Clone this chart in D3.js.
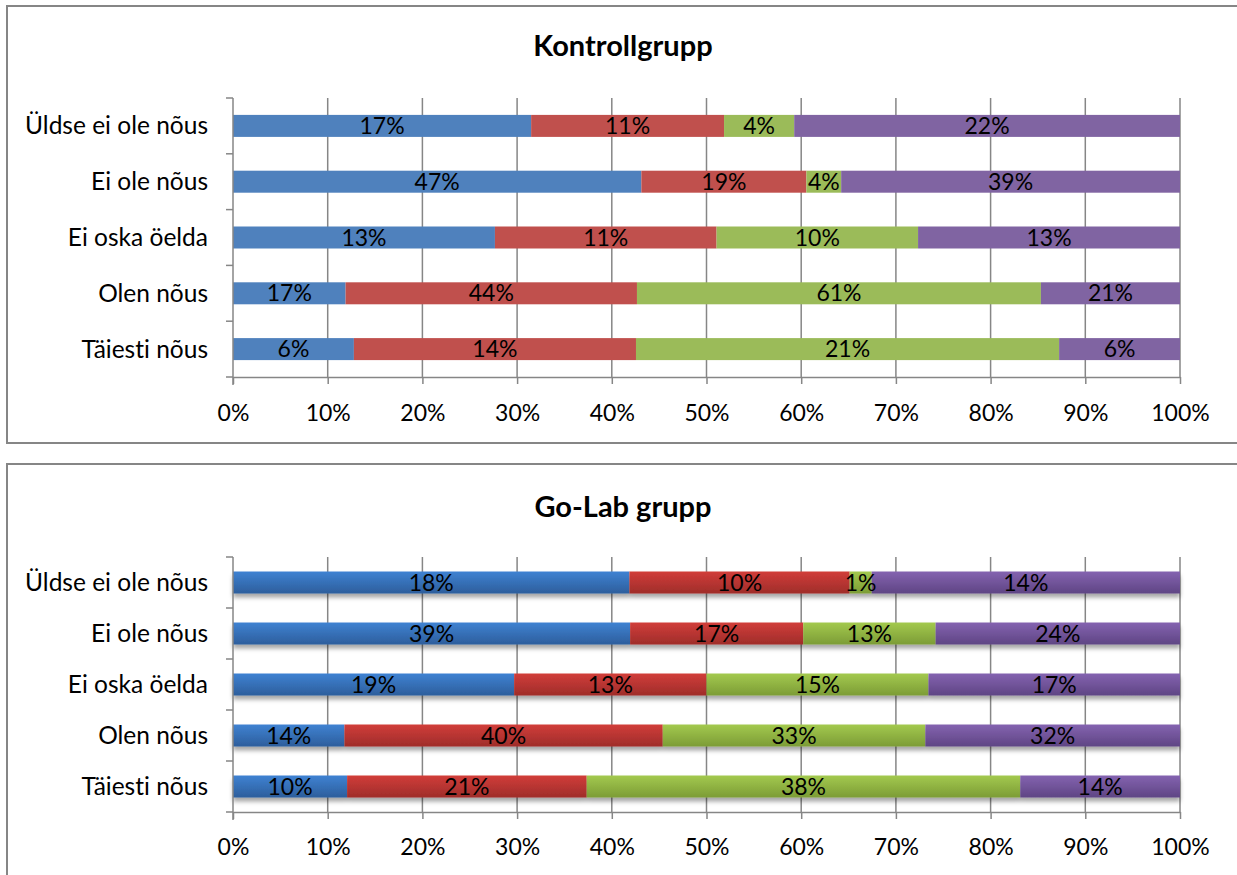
<!DOCTYPE html>
<html><head><meta charset="utf-8">
<script src="https://cdn.jsdelivr.net/npm/d3@7"></script>
<style>
html,body{margin:0;padding:0;background:#fff;}
svg{display:block;font-family:Lato,"Open Sans",sans-serif;font-variant-ligatures:none;}
</style></head>
<body>
<svg id="chart" width="1237" height="875"></svg>
<script>
const categories = ["Üldse ei ole nõus","Ei ole nõus","Ei oska öelda","Olen nõus","Täiesti nõus"];
const xTicks = [0,0.1,0.2,0.3,0.4,0.5,0.6,0.7,0.8,0.9,1];

const kontrollTitle = "Kontrollgrupp";
const kontroll1 = [17,47,13,17,6];
const kontroll2 = [11,19,11,44,14];
const kontroll3 = [4,4,10,61,21];
const kontroll4 = [22,39,13,21,6];

const golabTitle = "Go-Lab grupp";
const golab1 = [18,39,19,14,10];
const golab2 = [10,17,13,40,21];
const golab3 = [1,13,15,33,38];
const golab4 = [14,24,17,32,14];

const flatColors = ["#4F81BD","#C0504D","#9BBB59","#8064A2"];
const gradColors = [["#3F82D2","#2D5E9C"],["#D13D3A","#9F2D2A"],["#A3C94E","#7C9C36"],["#8463B0","#5F4584"]];

const svg = d3.select("#chart");
const defs = svg.append("defs");
gradColors.forEach((c,i)=>{
  const g = defs.append("linearGradient").attr("id","grad"+i).attr("x1",0).attr("y1",0).attr("x2",0).attr("y2",1);
  g.append("stop").attr("offset","0%").attr("stop-color",c[0]);
  g.append("stop").attr("offset","100%").attr("stop-color",c[1]);
});
const f = defs.append("filter").attr("id","shadow").attr("x","-5%").attr("y","-20%").attr("width","110%").attr("height","180%");
f.append("feDropShadow").attr("dx",0).attr("dy",4).attr("stdDeviation",2.2).attr("flood-color","#000").attr("flood-opacity",0.35);

const gridColor = "#868686";

function drawPanel(cfg){
  const {title, series, frameTop, frameBottom, plotTop, plotBottom, titleY, tickLabelY, gradient} = cfg;
  const x0 = 233, x1 = 1180;
  svg.append("rect").attr("x",7).attr("y",frameTop).attr("width",1260).attr("height",frameBottom-frameTop)
    .attr("fill","#fff").attr("stroke",gridColor).attr("stroke-width",2);
  svg.append("text").attr("x",623).attr("y",titleY).attr("text-anchor","middle")
    .attr("font-size",29).attr("font-weight","bold").attr("fill","#000").text(title);

  const x = d3.scaleLinear().domain([0,1]).range([x0,x1]);
  const n = categories.length;
  const step = (plotBottom-plotTop)/n;
  const p = 1 - 22/step;
  const y = d3.scaleBand().domain(categories).range([plotTop,plotBottom]).paddingInner(p).paddingOuter(p/2);

  const g = svg.append("g");
  g.selectAll("line.grid").data(xTicks.slice(1)).join("line")
    .attr("x1",d=>x(d)).attr("x2",d=>x(d)).attr("y1",plotTop).attr("y2",plotBottom)
    .attr("stroke",gridColor).attr("stroke-width",1.5);

  const rows = categories.map((c,i)=>{
    const vals = series.map(s=>s[i]);
    const tot = d3.sum(vals);
    let acc = 0;
    return vals.map((v,k)=>{ const s0 = acc/tot; acc += v; return {cat:c, k, v, s0, s1:acc/tot}; });
  }).flat();

  const barG = g.append("g");
  if (gradient) barG.attr("filter","url(#shadow)");
  barG.selectAll("rect").data(rows).join("rect")
    .attr("x",d=>x(d.s0)).attr("width",d=>x(d.s1)-x(d.s0))
    .attr("y",d=>y(d.cat)).attr("height",y.bandwidth())
    .attr("fill",d=> gradient ? `url(#grad${d.k})` : flatColors[d.k]);

  g.selectAll("text.lbl").data(rows).join("text")
    .attr("x",d=>(x(d.s0)+x(d.s1))/2).attr("y",d=>y(d.cat)+y.bandwidth()/2)
    .attr("dy","0.35em").attr("text-anchor","middle").attr("font-size",23).attr("fill","#000")
    .text(d=>d.v+"%");

  g.append("line").attr("x1",x0).attr("x2",x0).attr("y1",plotTop).attr("y2",plotBottom+8)
    .attr("stroke",gridColor).attr("stroke-width",1.5);
  d3.range(n+1).forEach(i=>{
    const yy = plotTop + i*step;
    g.append("line").attr("x1",x0-7).attr("x2",x0).attr("y1",yy).attr("y2",yy)
      .attr("stroke",gridColor).attr("stroke-width",1.5);
  });
  g.selectAll("text.cat").data(categories).join("text")
    .attr("x",208).attr("y",d=>y(d)+y.bandwidth()/2).attr("dy","0.35em")
    .attr("text-anchor","end").attr("font-size",24.5).attr("fill","#000").text(d=>d);

  const ax = d3.axisBottom(x).tickValues(xTicks).tickFormat(d3.format(".0%")).tickSize(7).tickSizeOuter(0).tickPadding(0);
  const axG = g.append("g").attr("transform",`translate(0,${plotBottom})`).call(ax);
  axG.select(".domain").attr("stroke",gridColor).attr("stroke-width",1.5);
  axG.selectAll(".tick line").attr("stroke",gridColor).attr("stroke-width",1.5);
  axG.selectAll(".tick text").attr("font-size",23).attr("font-family","Lato,'Open Sans',sans-serif")
    .attr("fill","#000").attr("y",tickLabelY-plotBottom).attr("dy","0.35em");
}

drawPanel({title:kontrollTitle, series:[kontroll1,kontroll2,kontroll3,kontroll4],
  frameTop:6, frameBottom:443, plotTop:98, plotBottom:377, titleY:56, tickLabelY:413, gradient:false});
drawPanel({title:golabTitle, series:[golab1,golab2,golab3,golab4],
  frameTop:464, frameBottom:900, plotTop:557, plotBottom:812, titleY:517, tickLabelY:847, gradient:true});
</script>
</body></html>
